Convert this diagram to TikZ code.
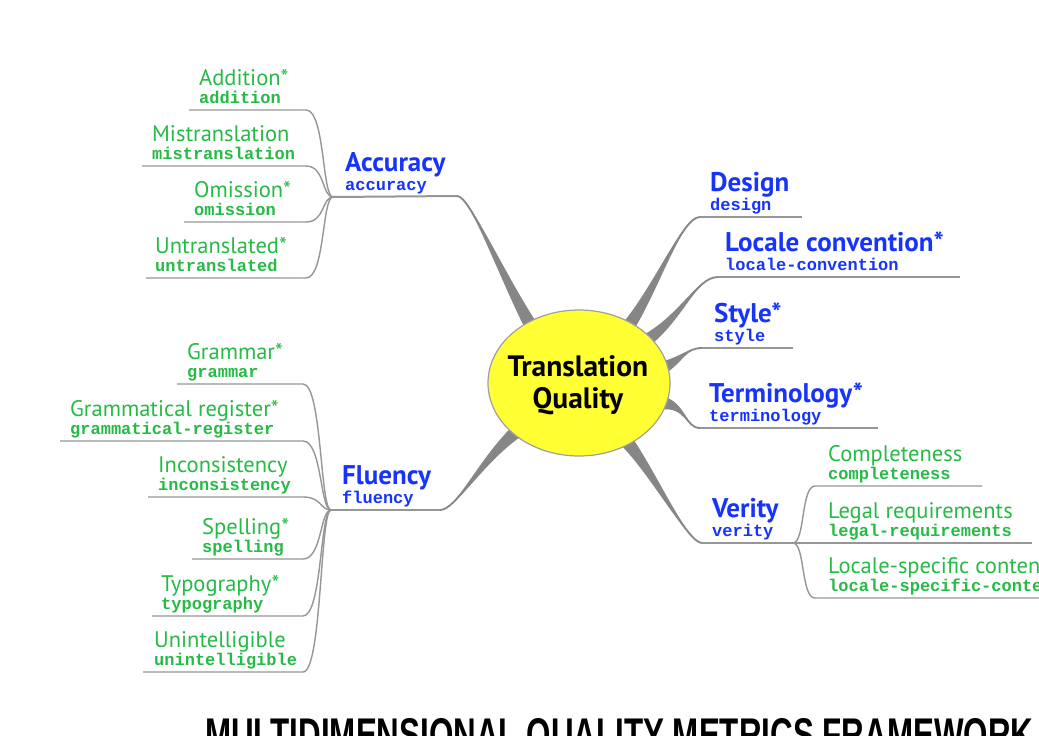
\documentclass[tikz,border=0pt]{standalone}
\usepackage{graphicx}
\usepackage{fontspec}
\setmainfont{PT Sans}
\setmonofont{Liberation Mono}
\newfontfamily\titlefont{Liberation Sans}
\usetikzlibrary{calc,shapes.geometric}

\definecolor{catblue}{RGB}{24,52,250}
\definecolor{leafgreen}{RGB}{38,186,70}
\definecolor{branchgray}{RGB}{134,134,134}
\definecolor{linegray}{RGB}{150,150,150}
\definecolor{hubyellow}{RGB}{255,255,51}

% tapered main branch: root, control 1, control 2, tip, root half-width, mid half-width
\newcommand{\taperbranch}[6]{%
  \fill[branchgray] ($#1!#5!90:#2$) .. controls ($#2!#6!-90:#1$) and #3 .. #4
        .. controls #3 and ($#2!#6!90:#1$) .. ($#1!#5!-90:#2$) -- cycle;
  \draw[branchgray, line width=1.8pt] #1 .. controls #2 and #3 .. #4;
}

% leaf label pair: name, title, code, text x, underline y, underline left x, underline right x
\newcommand{\leafnode}[7]{%
  \node[leaf] (#1) at (#4,#5-25) {#2};
  \node[leafcode] (#1-c) at (#4,#5-7) {#3};
  \coordinate (#1-l) at (#6,#5);
  \coordinate (#1-r) at (#7,#5);
}
% category label pair: name, title, code, text x, underline y
\newcommand{\catnode}[5]{%
  \node[cat] (#1) at (#4,#5-26) {#2};
  \node[catcode] (#1-c) at (#4,#5-7) {#3};
}

\begin{document}
\begin{tikzpicture}[x=1pt,y=-1pt,
  leaf/.style={font=\fontsize{22.5}{26}\selectfont, text=leafgreen, anchor=base west, inner sep=0},
  leafcode/.style={font=\fontsize{17}{20}\selectfont\ttfamily\bfseries, text=leafgreen, anchor=base west, inner sep=0},
  cat/.style={font=\fontsize{27}{31}\selectfont\bfseries, text=catblue, anchor=base west, inner sep=0},
  catcode/.style={font=\fontsize{17}{20}\selectfont\ttfamily\bfseries, text=catblue, anchor=base west, inner sep=0},
  leafline/.style={draw=linegray, line width=1.4pt},
  catline/.style={draw=linegray, line width=2pt},
  hubstyle/.style={ellipse, minimum width=182pt, minimum height=146pt, inner sep=0,
    fill=hubyellow, draw=gray!75, line width=1.2pt},
  hubtext/.style={align=center, inner sep=0, font=\fontsize{29.5}{32}\selectfont\bfseries}
]
\useasboundingbox (0,0) rectangle (1039,736);
\clip (0,0) rectangle (1039,736);
\fill[white] (0,0) rectangle (1039,736);

% ---------- roots on the hub and tips of the main branches ----------
\coordinate (acc-root) at (531,326);  \coordinate (acc-tip) at (457,196);
\coordinate (flu-root) at (516,432);  \coordinate (flu-tip) at (440,510);
\coordinate (des-root) at (628,327);  \coordinate (des-tip) at (700,217);
\coordinate (loc-root) at (644,342);  \coordinate (loc-tip) at (718,277);
\coordinate (sty-root) at (662,368);  \coordinate (sty-tip) at (702,348);
\coordinate (ter-root) at (662,403);  \coordinate (ter-tip) at (700,428);
\coordinate (ver-root) at (628,443);  \coordinate (ver-tip) at (702,543);

\coordinate (acc-j) at (333,197);
\coordinate (flu-j) at (331,510);
\coordinate (ver-j) at (793,543);

% ---------- main tapered branches ----------
\taperbranch{(acc-root)}{(498,268)}{(470,196)}{(acc-tip)}{6.5pt}{2.8pt}
\taperbranch{(flu-root)}{(480,462)}{(456,510)}{(flu-tip)}{6.5pt}{2.8pt}
\taperbranch{(des-root)}{(658,285)}{(682,217)}{(des-tip)}{6.5pt}{2.8pt}
\taperbranch{(loc-root)}{(682,318)}{(696,277)}{(loc-tip)}{6.5pt}{2.8pt}
\taperbranch{(sty-root)}{(682,360)}{(686,348)}{(sty-tip)}{6.5pt}{2.8pt}
\taperbranch{(ter-root)}{(686,404)}{(685,428)}{(ter-tip)}{6.5pt}{2.8pt}
\taperbranch{(ver-root)}{(656,478)}{(688,543)}{(ver-tip)}{6.5pt}{2.8pt}

% ---------- hub ----------
\node[hubstyle] (hub) at (579,383) {};
\node[hubtext] (hub-label) at ($(hub.center)+(-1,2)$) {Translation\\Quality};

% ---------- categories ----------
\catnode{acc}{Accuracy}{accuracy}{345}{197}
\catnode{flu}{Fluency}{fluency}{342}{510}
\catnode{des}{Design}{design}{710}{217}
\catnode{loc}{Locale convention*}{locale-convention}{725}{277}
\catnode{sty}{Style*}{style}{714}{348}
\catnode{ter}{Terminology*}{terminology}{709}{428}
\catnode{ver}{Verity}{verity}{712}{543}

\coordinate (des-end) at (802,217);
\coordinate (loc-end) at (960,277);
\coordinate (sty-end) at (793,348);
\coordinate (ter-end) at (878,428);

\draw[catline] (acc-j) -- (acc-tip);
\draw[catline] (flu-j) -- (flu-tip);
\draw[catline] (des-tip) -- (des-end);
\draw[catline] (loc-tip) -- (loc-end);
\draw[catline] (sty-tip) -- (sty-end);
\draw[catline] (ter-tip) -- (ter-end);
\draw[catline] (ver-tip) -- (ver-j);

% ---------- accuracy leaves ----------
\leafnode{add}{Addition*}{addition}{199}{110}{189}{306}
\leafnode{mis}{Mistranslation}{mistranslation}{152}{166}{142}{306}
\leafnode{omi}{Omission*}{omission}{194}{222}{184}{306}
\leafnode{unt}{Untranslated*}{untranslated}{155}{278}{146}{306}
\foreach \n in {add,mis,omi,unt}
  \draw[leafline] (\n-l) -- (\n-r) .. controls +(19,0) and +(-11,0) .. (acc-j);

% ---------- fluency leaves ----------
\leafnode{gra}{Grammar*}{grammar}{187}{384}{177}{303}
\leafnode{reg}{Grammatical register*}{grammatical-register}{70}{441}{60}{303}
\leafnode{inc}{Inconsistency}{inconsistency}{158}{497}{148}{303}
\leafnode{spe}{Spelling*}{spelling}{202}{559}{192}{303}
\leafnode{typ}{Typography*}{typography}{161}{616}{152}{303}
\leafnode{uni}{Unintelligible}{unintelligible}{154}{672}{143}{303}
\foreach \n in {gra,reg,inc,spe,typ,uni}
  \draw[leafline] (\n-l) -- (\n-r) .. controls +(19,0) and +(-11,0) .. (flu-j);

% ---------- verity leaves ----------
\leafnode{com}{Completeness}{completeness}{828}{486}{815}{982}
\leafnode{leg}{Legal requirements}{legal-requirements}{828}{543}{815}{1032}
\leafnode{lsc}{Locale-specific content}{locale-specific-content}{828}{598}{815}{1070}
\draw[leafline] (ver-j) .. controls +(12,0) and +(-14,0) .. (com-l) -- (com-r);
\draw[leafline] (ver-j) -- (leg-l) -- (leg-r);
\draw[leafline] (ver-j) .. controls +(12,0) and +(-14,0) .. (lsc-l) -- (lsc-r);

% ---------- title ----------
\node[anchor=base west, inner sep=0] (title) at (205,750)
  {\resizebox{828pt}{32pt}{\titlefont\bfseries MULTIDIMENSIONAL QUALITY METRICS FRAMEWORK}};
\end{tikzpicture}
\end{document}
